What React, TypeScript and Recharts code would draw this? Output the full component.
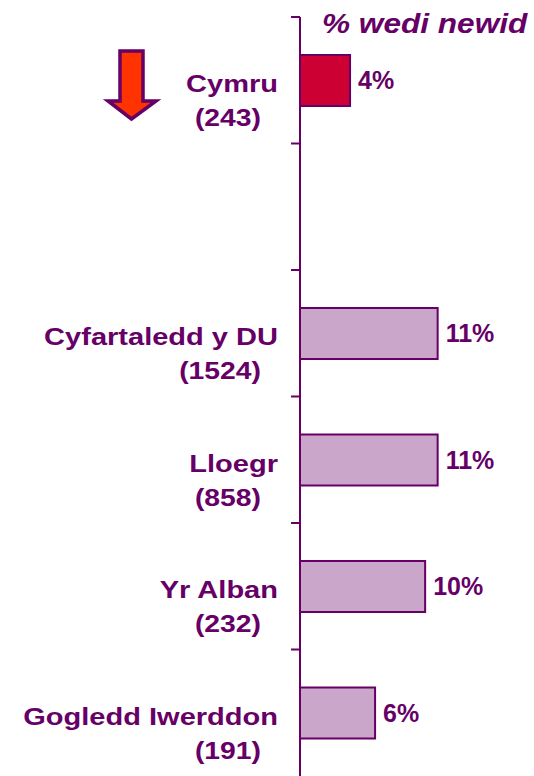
import React from 'react';
import { BarChart, Bar, XAxis, YAxis, Cell, LabelList } from 'recharts';

// rows top to bottom; the empty row is the gap under Cymru
const regions = ['Cymru', ' ', 'Cyfartaledd y DU', 'Lloegr', 'Yr Alban', 'Gogledd Iwerddon'];
const counts = [243, null, 1524, 858, 232, 191];
const changes = [4, null, 11, 11, 10, 6];

const PURPLE = '#660066';
const FONT = '"Liberation Sans", Arial, sans-serif';

const data = regions.map((region, i) => ({
  region,
  count: counts[i],
  change: changes[i],
}));

const TICK = 9;

const RegionTick = (props: any) => {
  const { x, y, payload, index } = props;
  const axisX = x + TICK;
  const half = payload.offset ?? 0;
  const name = regions[index]?.trim();
  const count = counts[index];
  return (
    <g>
      <line x1={axisX - TICK} x2={axisX} y1={y - half} y2={y - half} stroke={PURPLE} strokeWidth={2} />
      {name && (
        <text
          transform={`translate(${x - 13},${y + 12}) scale(1.21,1)`}
          textAnchor="end"
          fill={PURPLE}
          fontFamily={FONT}
          fontWeight="bold"
          fontSize={24}
        >
          {name}
        </text>
      )}
      {count != null && (
        <text
          transform={`translate(${x - 30},${y + 46}) scale(1.18,1)`}
          textAnchor="end"
          fill={PURPLE}
          fontFamily={FONT}
          fontWeight="bold"
          fontSize={24}
        >
          ({count})
        </text>
      )}
    </g>
  );
};

export default function App() {
  return (
    <div style={{ position: 'absolute', left: 0, top: 0, width: 534, height: 776, background: '#fff' }}>
      <BarChart
        width={534}
        height={776}
        data={data}
        layout="vertical"
        margin={{ top: 17, right: 0, bottom: 0, left: 0 }}
      >
        <XAxis type="number" domain={[0, 18.7]} hide />
        <YAxis
          type="category"
          dataKey="region"
          width={300}
          tickSize={TICK}
          tickMargin={0}
          tickLine={false}
          axisLine={{ stroke: PURPLE, strokeWidth: 2 }}
          tick={<RegionTick />}
          interval={0}
        />
        <Bar dataKey="change" barSize={51} stroke={PURPLE} strokeWidth={2} isAnimationActive={false}>
          {data.map((d, i) => (
            <Cell key={d.region} fill={i === 0 ? '#CC0033' : '#CAA6CA'} />
          ))}
          <LabelList
            dataKey="change"
            position="right"
            offset={8}
            formatter={(v: any) => (v == null ? '' : `${v}%`)}
            fill={PURPLE}
            style={{ fontFamily: FONT, fontWeight: 'bold', fontSize: 25 }}
          />
        </Bar>
      </BarChart>

      {/* title and the red arrow next to Cymru */}
      <svg width={534} height={776} style={{ position: 'absolute', left: 0, top: 0, pointerEvents: 'none' }}>
        <text
          transform="translate(322,33) scale(1.17,1)"
          fill={PURPLE}
          fontFamily={FONT}
          fontWeight="bold"
          fontStyle="italic"
          fontSize={27}
        >
          % wedi newid
        </text>
        <polygon
          points="120,51 143,51 143,101 156,101 131.5,119 108,101 120,101"
          fill="#FF3300"
          stroke={PURPLE}
          strokeWidth={3.5}
          strokeLinejoin="miter"
        />
      </svg>
    </div>
  );
}
